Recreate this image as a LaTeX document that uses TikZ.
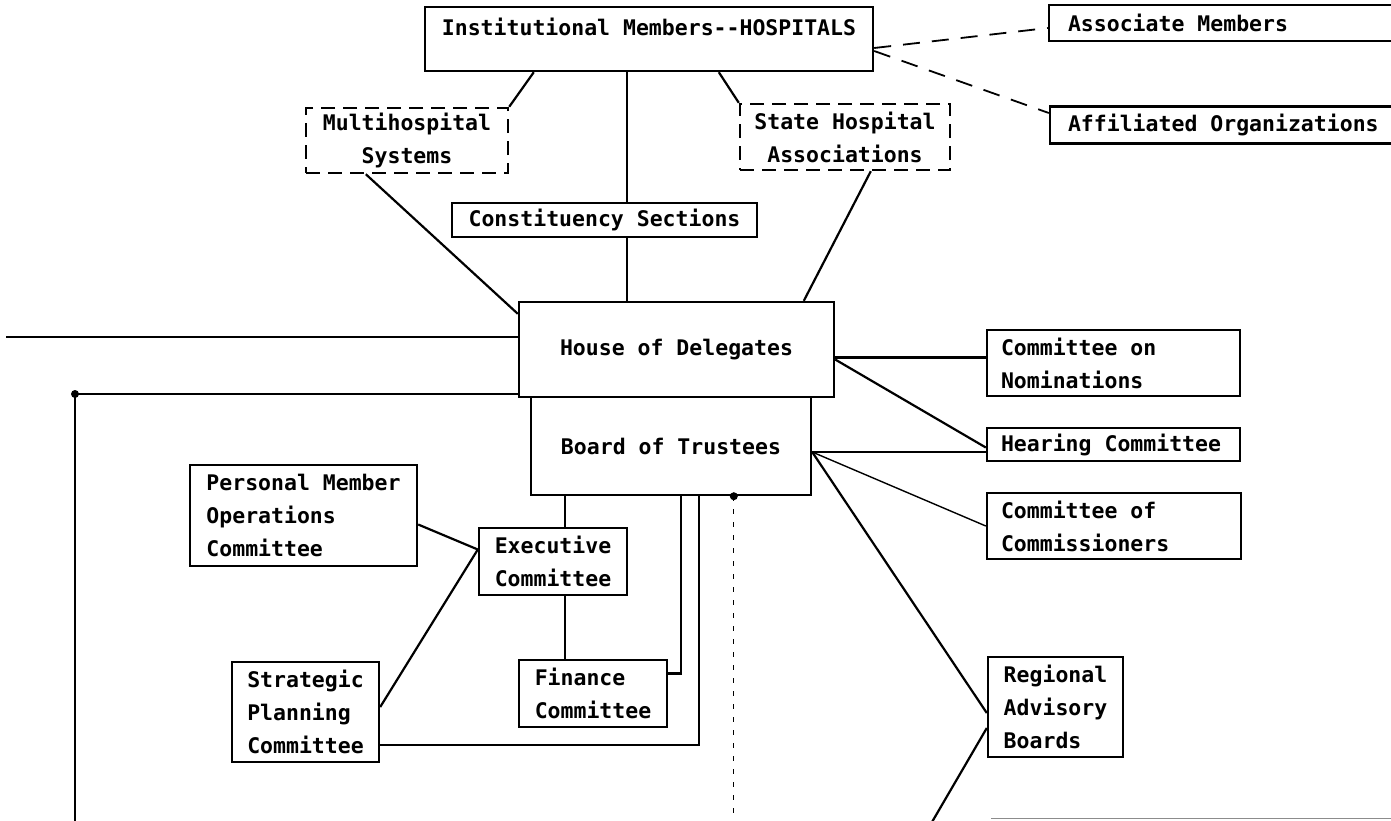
\documentclass[tikz,border=0pt]{standalone}
\usepackage{fontspec}
\setmainfont[Ligatures=NoCommon]{DejaVu Sans Mono}
\usetikzlibrary{calc}
\newcommand{\lline}[2]{\makebox[#1][l]{#2}}
\begin{document}
\begin{tikzpicture}[x=1pt,y=-1pt,
  every node/.style={font=\fontsize{21.5}{33}\selectfont\bfseries, inner sep=0pt},
  box/.style={draw, line width=2.4pt},
  dbox/.style={draw, line width=2.4pt, dash pattern=on 14pt off 8pt},
  conn/.style={line width=2.2pt},
  thinconn/.style={line width=1.4pt},
  dconn/.style={line width=1.8pt, dash pattern=on 17pt off 12pt},
  dotline/.style={line width=1.2pt, dash pattern=on 5pt off 8pt},
  junction/.style={circle, fill, inner sep=0pt, minimum size=8pt},
  edgeline/.style={line width=1pt, black!45}]
\useasboundingbox (0,0) rectangle (1391,820);
% boxes
\node[box, minimum width=448pt, minimum height=64pt, text height=16pt, text depth=24pt] (inst) at (649,39) {Institutional Members-{}-HOSPITALS};
\node[dbox, minimum width=202pt, minimum height=65pt, align=center] (multi) at (407,140.5) {Multihospital\\Systems};
\node[dbox, minimum width=210pt, minimum height=66pt, align=center] (state) at (845,137) {State Hospital\\Associations};
\node[box, minimum width=305pt, minimum height=34pt] (const) at (604.5,220) {Constituency Sections};
\node[box, minimum width=315pt, minimum height=95pt] (house) at (676.5,349.5) {House of Delegates};
\node[box, minimum width=280pt, minimum height=98pt] (board) at (671,446) {Board of Trustees};
\node[box, minimum width=253pt, minimum height=66pt, align=left] (nom) at (1113.5,363) {\lline{225pt}{Committee on}\\Nominations};
\node[box, minimum width=253pt, minimum height=33pt] (hear) at (1113.5,444.5) {\lline{225pt}{Hearing Committee}};
\node[box, minimum width=254pt, minimum height=66pt, align=left] (comm) at (1114,526) {\lline{226pt}{Committee of}\\Commissioners};
\node[box, minimum width=135pt, minimum height=100pt, align=left] (reg) at (1055.5,707) {Regional\\Advisory\\Boards};
\node[box, minimum width=227pt, minimum height=101pt, align=left] (pers) at (303.5,515.5) {Personal Member\\Operations\\Committee};
\node[box, minimum width=148pt, minimum height=67pt, align=left] (exec) at (553,561.5) {Executive\\Committee};
\node[box, minimum width=147pt, minimum height=100pt, align=left] (strat) at (305.5,712) {Strategic\\Planning\\Committee};
\node[box, minimum width=148pt, minimum height=67pt, align=left] (fin) at (593,693.5) {Finance\\Committee};
\node[box, minimum width=351pt, minimum height=36pt] (assoc) at (1224.5,23) {\lline{313pt}{Associate Members}};
\node[box, minimum width=350pt, minimum height=37pt] (affil) at (1225,125) {\lline{314pt}{Affiliated Organizations}};
% top connectors
\draw[conn] ($(inst.south west)+(110,0)$) -- (multi.north east);
\coordinate (vx) at ($(inst.south west)+(203,0)$);
\draw[conn] (vx) -- (vx |- const.north);
\draw[conn] (vx |- const.south) -- (vx |- house.north);
\draw[conn] ($(inst.south west)+(295,0)$) -- (state.north west);
\draw[conn] ($(multi.south west)+(61,0)$) -- ($(house.north west)+(0,13)$);
\draw[conn] ($(state.south west)+(132,0)$) -- ($(house.north west)+(286,0)$);
\draw[dconn] ($(inst.east)+(0,9)$) -- ($(assoc.west)+(0,5)$);
\draw[dconn] ($(inst.east)+(0,12)$) -- ($(affil.west)+(0,-12)$);
% left lines
\coordinate (lefttop) at (6,337);
\draw[conn] (lefttop) -- (lefttop -| house.west);
\coordinate (leftcorner) at (75,394);
\coordinate (leftbottom) at (75,822);
\draw[conn] (leftcorner -| house.west) -- (leftcorner) -- (leftbottom);
\node[junction] (dotL) at (leftcorner) {};
% right connectors
\coordinate (hn) at ($(house.east)+(0,8)$);
\draw[conn] (hn) -- (hn -| nom.west);
\draw[conn] ($(house.east)+(0,10)$) -- ($(hear.west)+(0,3)$);
\coordinate (bj) at ($(board.east)+(0,6)$);
\draw[conn] (bj) -- (bj -| hear.west);
\draw[thinconn] (bj) -- (comm.west);
\draw[conn] (bj) -- ($(reg.west)+(0,6)$);
\coordinate (regbot) at (932,822);
\draw[conn] ($(reg.west)+(0,21)$) -- (regbot);
% lower connectors
\coordinate (bx1) at ($(board.south west)+(35,0)$);
\draw[conn] (bx1) -- (bx1 |- exec.north);
\draw[conn] (bx1 |- exec.south) -- (bx1 |- fin.north);
\coordinate (bx2) at ($(board.south west)+(151,0)$);
\draw[conn] (bx2) |- ($(fin.east)+(0,-20)$);
\coordinate (bx3) at ($(board.south west)+(169,0)$);
\draw[conn] (bx3) |- ($(strat.east)+(0,33)$);
\coordinate (bx4) at ($(board.south west)+(204,0)$);
\draw[dotline] (bx4) -- (bx4 |- leftbottom);
\node[junction] (dotB) at (bx4) {};
\coordinate (ej) at ($(exec.west)+(0,-12)$);
\draw[conn] ($(pers.east)+(0,9)$) -- (ej);
\draw[conn] ($(strat.east)+(0,-5)$) -- (ej);
% page edge
\coordinate (edgeA) at (991,818);
\coordinate (edgeB) at (1395,818);
\draw[edgeline] (edgeA) -- (edgeB);
\end{tikzpicture}
\end{document}
